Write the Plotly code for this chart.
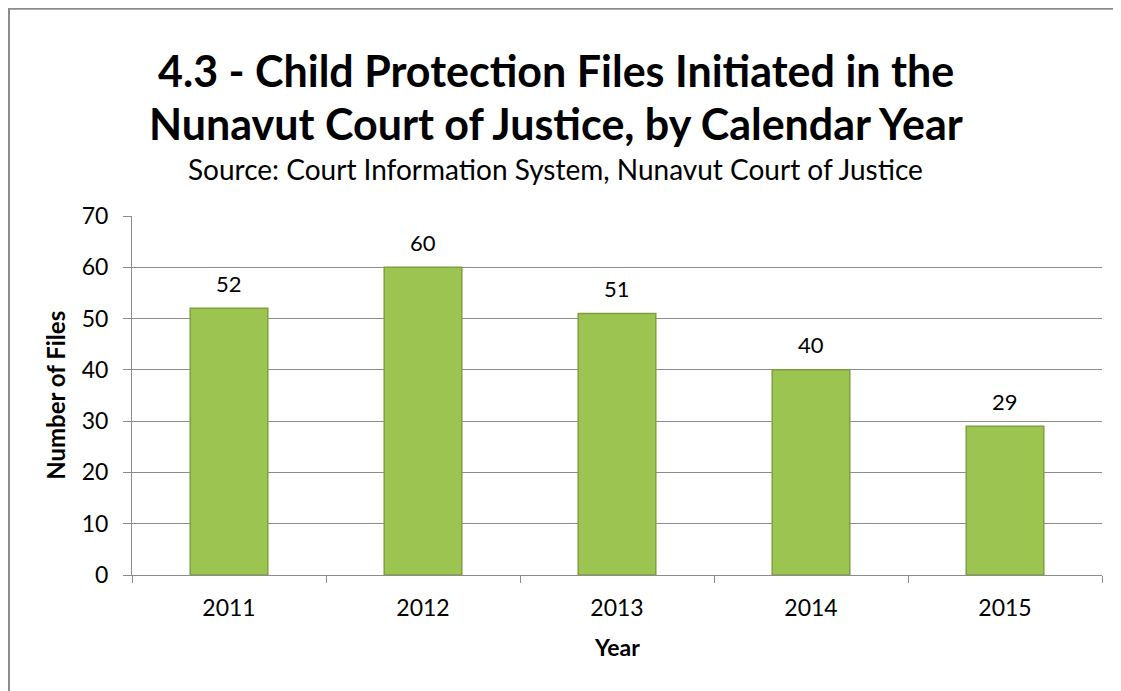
import plotly.graph_objects as go

years = ["2011", "2012", "2013", "2014", "2015"]
files = [52, 60, 51, 40, 29]
y_ticks = [0, 10, 20, 30, 40, 50, 60, 70]

FONT = "Lato"

fig = go.Figure()
fig.add_trace(go.Bar(
    x=years, y=files, width=0.4,
    marker=dict(color="#9cc451", line=dict(color="#7f9f40", width=1.5)),
))

# value labels placed at the category index of each bar (category axis)
label_annotations = [
    dict(text=str(v), x=i, y=v, xref="x", yref="y", xanchor="center", yanchor="middle",
         yshift=25, showarrow=False, font=dict(size=22, family=FONT, color="#000"))
    for i, v in enumerate(files)
]

fig.update_layout(
    width=1121, height=691,
    margin=dict(l=124, r=27, t=208, b=124),
    paper_bgcolor="white", plot_bgcolor="white",
    showlegend=False,
    font=dict(family=FONT, color="#000"),
    annotations=[
        dict(text="<b>4.3 - Child Protection Files Initiated in the</b>",
             xref="paper", yref="paper", x=0.437, y=1.405, xanchor="center", yanchor="middle",
             showarrow=False, font=dict(size=43, family=FONT, color="#000")),
        dict(text="<b>Nunavut Court of Justice, by Calendar Year</b>",
             xref="paper", yref="paper", x=0.437, y=1.257, xanchor="center", yanchor="middle",
             showarrow=False, font=dict(size=43, family=FONT, color="#000")),
        dict(text="Source: Court Information System, Nunavut Court of Justice",
             xref="paper", yref="paper", x=0.437, y=1.13, xanchor="center", yanchor="middle",
             showarrow=False, font=dict(size=28, family=FONT, color="#000")),
        dict(text="<b>Number of Files</b>", textangle=-90,
             xref="paper", yref="paper", x=-0.079, y=0.5, xanchor="center", yanchor="middle",
             showarrow=False, font=dict(size=24, family=FONT, color="#000")),
        dict(text="<b>Year</b>",
             xref="paper", yref="paper", x=0.5, y=-0.2, xanchor="center", yanchor="middle",
             showarrow=False, font=dict(size=23, family=FONT, color="#000")),
    ] + label_annotations,
    xaxis=dict(
        type="category", categoryorder="array", categoryarray=years,
        showline=True, linecolor="#8c8c8c", linewidth=1,
        ticks="outside", tickson="boundaries", ticklen=7, tickcolor="#8c8c8c",
        ticklabelstandoff=12, tickangle=0,
        tickfont=dict(size=23, family=FONT), showgrid=False, automargin=False,
    ),
    yaxis=dict(
        range=[0, 70], tickvals=y_ticks,
        showline=True, linecolor="#8c8c8c", linewidth=1,
        ticks="outside", ticklen=8, tickcolor="#8c8c8c",
        ticklabelstandoff=10,
        showgrid=True, gridcolor="#8c8c8c", gridwidth=1, zeroline=False,
        tickfont=dict(size=23, family=FONT), automargin=False,
    ),
    shapes=[dict(type="rect", xref="paper", yref="paper",
                 x0=-0.1268, x1=1.2, y0=-0.5, y1=1.577,
                 line=dict(color="#8c8c8c", width=2), layer="below")],
)

fig.write_html("out.html")
